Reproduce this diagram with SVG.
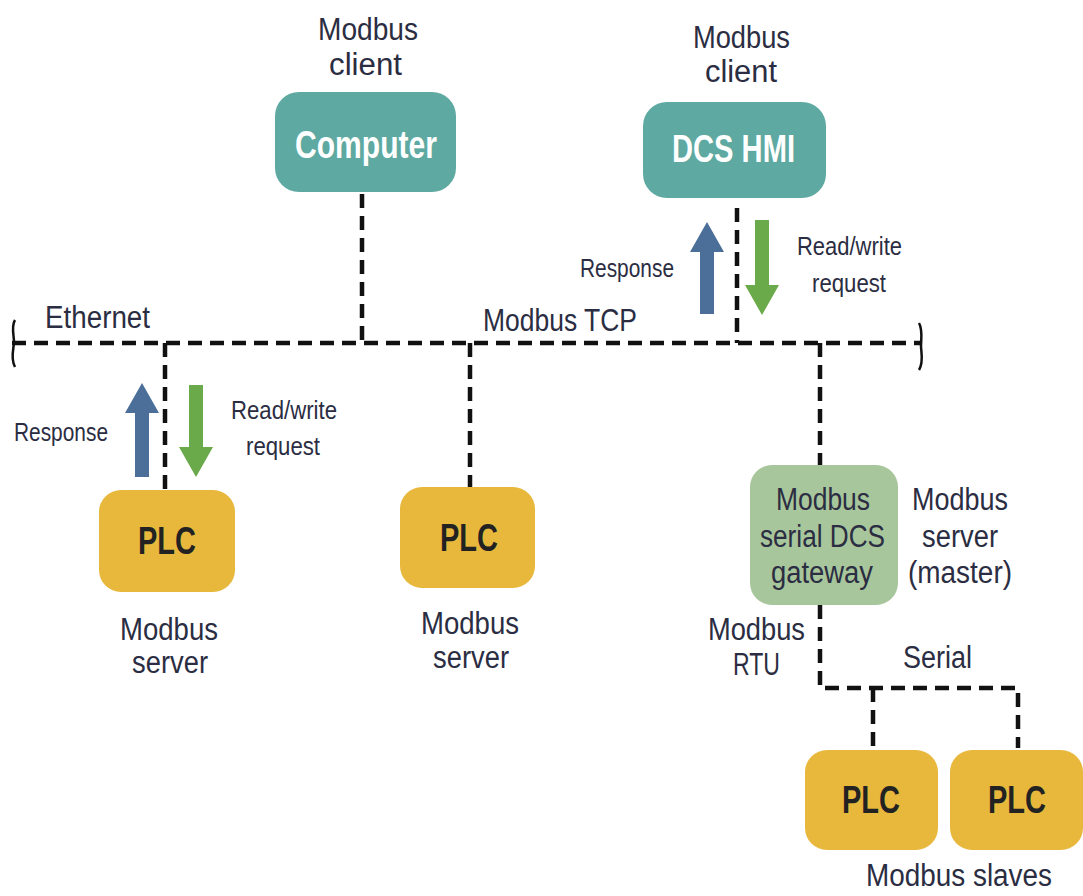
<svg xmlns="http://www.w3.org/2000/svg" width="1083" height="896" viewBox="0 0 1083 896">
<style>
.lbl{font-family:"Liberation Sans",Arial,sans-serif;font-size:31px;fill:#2b2d42;}
.sm{font-family:"Liberation Sans",Arial,sans-serif;font-size:26px;fill:#2b2d42;}
.bx{font-family:"Liberation Sans",Arial,sans-serif;font-weight:bold;font-size:38px;}
.wt{fill:#ffffff;}
.dk{fill:#222222;}
.teal{fill:#5ea9a1;}
.gold{fill:#e7b83c;}
.gw{fill:#a8c69b;}
.dash{fill:none;stroke:#111;stroke-width:4.5;stroke-dasharray:14 8;}
.br{fill:none;stroke:#111;stroke-width:2.5;}
.up{fill:#4b6f98;}
.dn{fill:#6aaa4b;}
</style>
<rect width="1083" height="896" fill="#ffffff"/>
<g id="connectors">
<path class="dash" d="M12 343 H920"/>
<path class="dash" d="M362 194 V343"/>
<path class="dash" d="M737 208 V343"/>
<path class="dash" d="M165 343 V490"/>
<path class="dash" d="M470 343 V487"/>
<path class="dash" d="M820 343 V465"/>
<path class="dash" d="M820 605 V688 H1018 V748"/>
<path class="dash" d="M873 688 V750"/>
<path class="br" d="M15,320 C11,326 14,336 14,342 C14,348 10,358 15,367"/>
<path class="br" d="M919,323 C923,330 921,340 921,346 C921,352 924,362 919,370"/>
<polygon class="up" points="700,314 714,314 714,252 724,252 707,222 690,252 700,252"/>
<polygon class="dn" points="755,220 769,220 769,285 779,285 762,315 745,285 755,285"/>
<polygon class="up" points="135,477 149,477 149,413 159,413 142,383 125,413 135,413"/>
<polygon class="dn" points="189,385 203,385 203,447 213,447 196,477 179,447 189,447"/>
</g>
<g id="labels">
<text class="lbl" x="318" y="40" textLength="100" lengthAdjust="spacingAndGlyphs">Modbus</text>
<text class="lbl" x="329" y="75" textLength="73" lengthAdjust="spacingAndGlyphs">client</text>
<text class="lbl" x="693" y="48" textLength="97" lengthAdjust="spacingAndGlyphs">Modbus</text>
<text class="lbl" x="705" y="82" textLength="72" lengthAdjust="spacingAndGlyphs">client</text>
<text class="lbl" x="45" y="328" textLength="105" lengthAdjust="spacingAndGlyphs">Ethernet</text>
<text class="lbl" x="483" y="331" textLength="154" lengthAdjust="spacingAndGlyphs">Modbus TCP</text>
<text class="sm" x="580" y="277" textLength="94" lengthAdjust="spacingAndGlyphs">Response</text>
<text class="sm" x="797" y="255" textLength="105" lengthAdjust="spacingAndGlyphs">Read/write</text>
<text class="sm" x="812" y="292" textLength="74" lengthAdjust="spacingAndGlyphs">request</text>
<text class="sm" x="14" y="441" textLength="94" lengthAdjust="spacingAndGlyphs">Response</text>
<text class="sm" x="231" y="419" textLength="106" lengthAdjust="spacingAndGlyphs">Read/write</text>
<text class="sm" x="246" y="455" textLength="74" lengthAdjust="spacingAndGlyphs">request</text>
<text class="lbl" x="120" y="640" textLength="98" lengthAdjust="spacingAndGlyphs">Modbus</text>
<text class="lbl" x="132" y="673" textLength="76" lengthAdjust="spacingAndGlyphs">server</text>
<text class="lbl" x="421" y="634" textLength="98" lengthAdjust="spacingAndGlyphs">Modbus</text>
<text class="lbl" x="433" y="668" textLength="76" lengthAdjust="spacingAndGlyphs">server</text>
<text class="lbl" x="912" y="510" textLength="96" lengthAdjust="spacingAndGlyphs">Modbus</text>
<text class="lbl" x="922" y="547" textLength="76" lengthAdjust="spacingAndGlyphs">server</text>
<text class="lbl" x="908" y="583" textLength="104" lengthAdjust="spacingAndGlyphs">(master)</text>
<text class="lbl" x="708" y="640" textLength="97" lengthAdjust="spacingAndGlyphs">Modbus</text>
<text class="lbl" x="733" y="675" textLength="47" lengthAdjust="spacingAndGlyphs">RTU</text>
<text class="lbl" x="903" y="668" textLength="69" lengthAdjust="spacingAndGlyphs">Serial</text>
<text class="lbl" x="866" y="886" textLength="186" lengthAdjust="spacingAndGlyphs">Modbus slaves</text>
</g>
<g id="computer">
<rect class="teal" x="275" y="92" width="181" height="100" rx="24"/>
<text class="bx wt" x="295" y="158" textLength="142" lengthAdjust="spacingAndGlyphs">Computer</text>
</g>
<g id="dcs-hmi">
<rect class="teal" x="643" y="102" width="183" height="96" rx="24"/>
<text class="bx wt" x="672" y="162" textLength="123" lengthAdjust="spacingAndGlyphs">DCS HMI</text>
</g>
<g id="plc-left">
<rect class="gold" x="99" y="490" width="136" height="102" rx="22"/>
<text class="bx dk" x="138" y="554" textLength="58" lengthAdjust="spacingAndGlyphs">PLC</text>
</g>
<g id="plc-mid">
<rect class="gold" x="400" y="487" width="135" height="101" rx="22"/>
<text class="bx dk" x="440" y="551" textLength="58" lengthAdjust="spacingAndGlyphs">PLC</text>
</g>
<g id="gateway">
<rect class="gw" x="750" y="465" width="148" height="140" rx="22"/>
<text class="lbl" x="776" y="510" textLength="94" lengthAdjust="spacingAndGlyphs">Modbus</text>
<text class="lbl" x="760" y="547" textLength="125" lengthAdjust="spacingAndGlyphs">serial DCS</text>
<text class="lbl" x="771" y="583" textLength="102" lengthAdjust="spacingAndGlyphs">gateway</text>
</g>
<g id="plc-slave1">
<rect class="gold" x="805" y="750" width="133" height="100" rx="22"/>
<text class="bx dk" x="842" y="813" textLength="58" lengthAdjust="spacingAndGlyphs">PLC</text>
</g>
<g id="plc-slave2">
<rect class="gold" x="950" y="750" width="133" height="100" rx="22"/>
<text class="bx dk" x="988" y="813" textLength="58" lengthAdjust="spacingAndGlyphs">PLC</text>
</g>
</svg>
